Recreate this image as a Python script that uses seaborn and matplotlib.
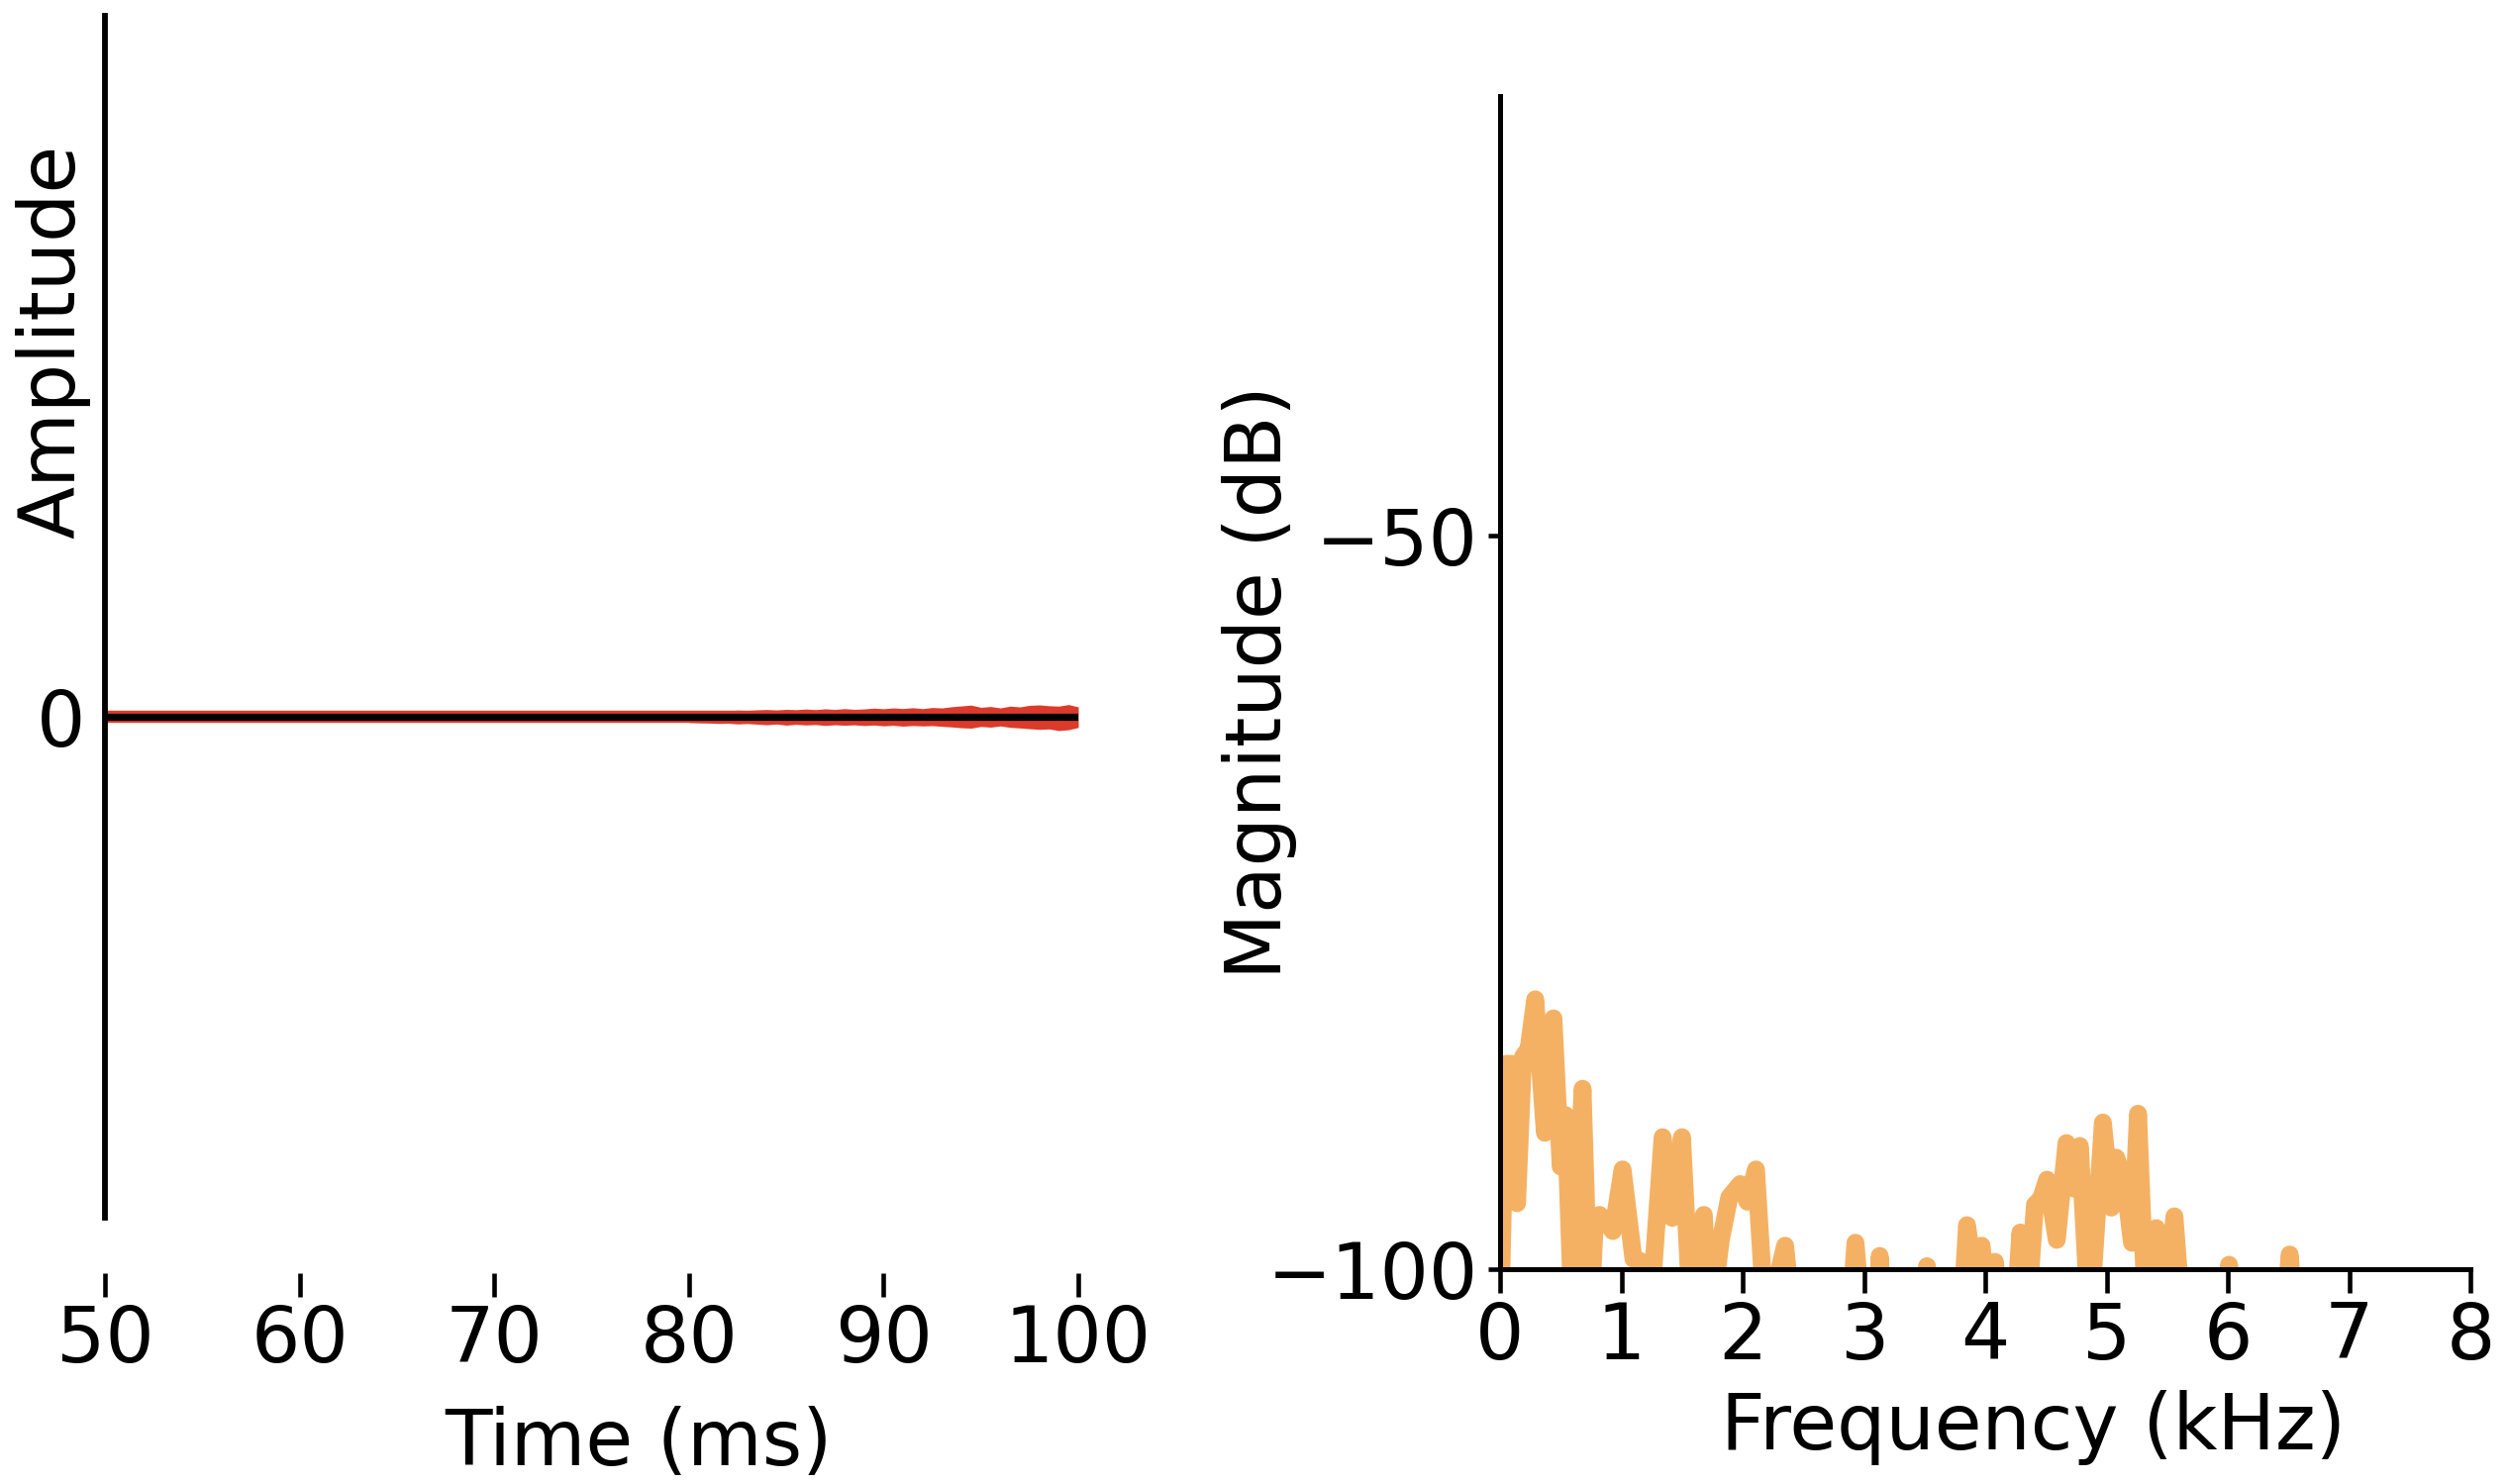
import numpy as np
import pandas as pd
import matplotlib
matplotlib.use("Agg")
import matplotlib.pyplot as plt
import seaborn as sns

# ---------------- data ----------------
# Left panel: time trace (ms) - flat zero line with noise band appearing late
time_ms_line = [50.0, 100.0]
signal_line = [0.0, 0.0]

noise_time_ms = [80.0, 80.5, 81.0, 81.5, 82.0, 82.5, 83.0, 83.5, 84.0, 84.5,
                 85.0, 85.5, 86.0, 86.5, 87.0, 87.5, 88.0, 88.5, 89.0, 89.5,
                 90.0, 90.5, 91.0, 91.5, 92.0, 92.5, 93.0, 93.5, 94.0, 94.5,
                 95.0, 95.5, 96.0, 96.5, 97.0, 97.5, 98.0, 98.5, 99.0, 99.5,
                 100.0]
noise_upper = [0.0055, 0.0058, 0.0060, 0.0064, 0.0062, 0.0068, 0.0065, 0.0070, 0.0074, 0.0069,
               0.0076, 0.0072, 0.0079, 0.0073, 0.0081, 0.0075, 0.0083, 0.0076, 0.0080, 0.0088,
               0.0082, 0.0090, 0.0084, 0.0092, 0.0083, 0.0094, 0.0090, 0.0102, 0.0110, 0.0118,
               0.0096, 0.0104, 0.0090, 0.0108, 0.0100, 0.0116, 0.0120, 0.0112, 0.0108, 0.0124,
               0.0100]
noise_lower = [-0.0055, -0.0059, -0.0061, -0.0065, -0.0063, -0.0070, -0.0066, -0.0072, -0.0078, -0.0071,
               -0.0082, -0.0074, -0.0080, -0.0076, -0.0085, -0.0078, -0.0083, -0.0079, -0.0086, -0.0081,
               -0.0089, -0.0084, -0.0092, -0.0086, -0.0090, -0.0087, -0.0094, -0.0100, -0.0108, -0.0112,
               -0.0095, -0.0102, -0.0090, -0.0104, -0.0110, -0.0118, -0.0124, -0.0120, -0.0136, -0.0128,
               -0.0105]

# Right panel: magnitude spectrum
freq_khz = [0.00, 0.05, 0.10, 0.14, 0.19, 0.235, 0.29, 0.37, 0.44, 0.50,
            0.54, 0.60, 0.68, 0.74, 0.78, 0.82, 0.87, 0.93, 1.01, 1.10,
            1.17, 1.23, 1.34, 1.42, 1.50, 1.58, 1.68, 1.73, 1.82, 1.89,
            1.98, 2.04, 2.11, 2.19, 2.35, 2.42, 2.88, 2.93, 2.99, 3.10,
            3.13, 3.17, 3.50, 3.52, 3.55, 3.80, 3.85, 3.91, 3.97, 4.03,
            4.08, 4.13, 4.24, 4.29, 4.34, 4.41, 4.46, 4.51, 4.59, 4.67,
            4.73, 4.78, 4.86, 4.97, 5.04, 5.08, 5.15, 5.21, 5.26, 5.33,
            5.41, 5.47, 5.56, 5.63, 5.96, 6.01, 6.06, 6.46, 6.51, 6.56,
            8.00]
mag_db = [-104, -86, -86, -95.5, -85.5, -85, -81.6, -90.7, -82.9, -93,
          -89.5, -104, -87.7, -104, -97, -96.3, -96.7, -97.4, -93.2, -99.3,
          -99.5, -104, -91, -96.5, -91, -104, -96.3, -104, -98, -95.1,
          -94.2, -95.4, -93.2, -104, -98.4, -104, -104, -98.2, -104, -104,
          -99.1, -104, -104, -99.8, -104, -104, -97, -100.5, -98.4, -104,
          -99.5, -104, -104, -97.5, -104, -95.6, -95.2, -93.9, -98, -91.4,
          -94.5, -91.6, -104, -90, -95.8, -92.4, -94.1, -98.2, -89.4, -104,
          -97.2, -104, -96.4, -104, -104, -99.7, -104, -104, -99, -104,
          -104]

time_ticks = [50, 60, 70, 80, 90, 100]
freq_ticks = [0, 1, 2, 3, 4, 5, 6, 7, 8]
db_ticks = [-100, -50]

# ---------------- style ----------------
sns.set_style("ticks")
plt.rcParams['font.family'] = ['DejaVu Sans']
for k in ["text.color", "axes.labelcolor", "xtick.color", "ytick.color",
          "axes.edgecolor"]:
    plt.rcParams[k] = "black"
FS = 56

fig = plt.figure(figsize=(25.35, 14.99), dpi=100)
W, H = 2535, 1499

def frac(x0, y0, x1, y1):
    return [x0 / W, 1 - y1 / H, (x1 - x0) / W, (y1 - y0) / H]

ax1 = fig.add_axes(frac(106, 16, 1089, 1230))
ax2 = fig.add_axes(frac(1515, 97, 2495, 1282))

RED = "#dc3b2b"
ORANGE = "#f5b163"

# left panel
df_line = pd.DataFrame({"t": time_ms_line, "a": signal_line})
sns.lineplot(data=df_line, x="t", y="a", ax=ax1, color=RED, lw=8.9,
             solid_capstyle="butt")
ax1.fill_between(noise_time_ms, noise_lower, noise_upper, color=RED, lw=0)
sns.lineplot(data=df_line, x="t", y="a", ax=ax1, color="black", lw=5.2,
             solid_capstyle="butt")
ax1.set_xlim(50, 100)
ax1.set_ylim(-0.5, 0.7)
ax1.set_xticks(time_ticks)
ax1.set_yticks([0])
ax1.set_xlabel("Time (ms)", fontsize=FS)
ax1.set_ylabel("Amplitude", fontsize=FS)
ax1.xaxis.set_label_coords(0.548, -0.1565)
ax1.yaxis.set_label_coords(-0.015, 0.729)
for s in ["top", "right"]:
    ax1.spines[s].set_visible(False)
ax1.spines["bottom"].set_position(("outward", 40))
ax1.spines["bottom"].set_visible(False)
ax1.spines["left"].set_linewidth(4.2)
ax1.tick_params(axis="x", labelsize=FS, length=17, width=3.3, pad=5)
ax1.tick_params(axis="y", labelsize=FS, length=0, pad=14)

# right panel
df_spec = pd.DataFrame({"f": freq_khz, "m": mag_db})
sns.lineplot(data=df_spec, x="f", y="m", ax=ax2, color=ORANGE, lw=13,
             solid_joinstyle="round", solid_capstyle="round")
ax2.set_xlim(0, 8)
ax2.set_ylim(-100, -20)
ax2.set_xticks(freq_ticks)
ax2.set_yticks(db_ticks)
ax2.set_xlabel("Frequency (kHz)", fontsize=FS)
ax2.set_ylabel("Magnitude (dB)", fontsize=FS)
ax2.xaxis.set_label_coords(0.55, -0.103)
ax2.yaxis.set_label_coords(-0.209, 0.50)
for s in ["top", "right"]:
    ax2.spines[s].set_visible(False)
for s in ["left", "bottom"]:
    ax2.spines[s].set_linewidth(3.6)
ax2.tick_params(axis="x", labelsize=FS, length=17, width=3.3, pad=5)
ax2.tick_params(axis="y", labelsize=FS, length=9, width=3.3, pad=7)

fig.savefig("out.png", dpi=100)
